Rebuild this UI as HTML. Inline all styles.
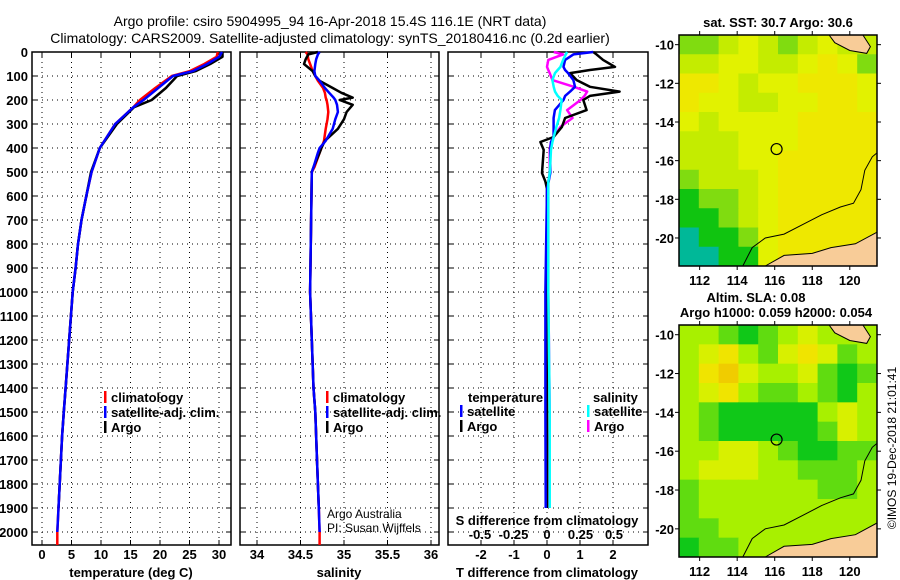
<!DOCTYPE html>
<html><head><meta charset="utf-8"><style>
body{margin:0;background:#fff;}
svg{display:block;font-family:"Liberation Sans",sans-serif;}
.t{font-size:13px;font-weight:bold;fill:#000;}
.ti{font-size:14px;fill:#000;}
.n{font-size:12px;fill:#000;}
</style></head><body>
<svg id="s" width="900" height="580" viewBox="0 0 900 580">
<rect width="900" height="580" fill="#fff"/>
<text class="ti" x="330" y="26" text-anchor="middle">Argo profile: csiro 5904995_94 16-Apr-2018 15.4S 116.1E (NRT data)</text>
<text class="ti" x="330" y="43" text-anchor="middle">Climatology: CARS2009. Satellite-adjusted climatology: synTS_20180416.nc (0.2d earlier)</text>
<g id="g"></g>
</svg>
<script>
// ---------- profile data ----------
const tDepth = [0,20,50,80,100,150,200,230,300,400,500,600,700,800,900,1000,1400,1500,1600,1700,1800,1900,2000];
const tClim  = [29.8,29.6,27.5,25,22.0,19.2,16.6,15.5,12.4,9.8,8.4,7.5,6.7,6.1,5.7,5.2,4.0,3.7,3.4,3.2,3.0,2.8,2.6];
const tSat   = [30.5,30.0,28,25.5,22.2,19.7,17.2,15.5,12.4,9.8,8.4,7.5,6.7,6.1,5.7,5.2,4.0,3.7,3.4,3.2,3.0,2.8,2.6];
const tArgo  = [30.6,30.6,28.5,26,22.9,21.0,18.6,15.6,12.7,9.8,8.3,7.5,6.7,6.1,5.7,5.2,4.0,3.7,3.4,3.2,3.0,2.8];
const sDepth = [0,10,30,50,80,100,120,150,170,190,200,220,250,280,320,370,400,420,480,500,1000,1400,1500,1700,1800,1900,2000];
const sClim  = [34.56,34.58,34.59,34.61,34.64,34.67,34.7,34.76,34.78,34.79,34.8,34.81,34.82,34.81,34.79,34.77,34.74,34.72,34.66,34.63,34.61,34.65,34.67,34.69,34.70,34.71,34.72];
const sSat   = [34.72,34.70,34.68,34.67,34.66,34.67,34.72,34.78,34.83,34.88,34.90,34.92,34.93,34.90,34.87,34.79,34.72,34.70,34.65,34.63,34.61,34.65,34.67,34.69,34.70,34.71,34.72];
const sArgo  = [34.70,34.59,34.56,34.54,34.64,34.67,34.72,34.87,34.97,35.10,34.95,35.10,35.03,35.00,34.93,34.78,34.74,34.72,34.65,34.63,34.61,34.65,34.67,34.69,34.70,34.71];
const dDepth = [0,10,33,62,75,88,117,145,165,183,200,242,275,312,354,375,408,504,540,570,1000,1500,1900];
const dTArgo = [1.4,1.5,1.7,2.06,1.3,0.7,0.9,1.3,2.2,1.3,1.1,1.2,0.55,0.45,0.2,-0.2,-0.1,-0.15,-0.05,0,-0.02,0,0];
const dTSat  = [1.4,0.8,0.55,0.5,0.55,0.64,0.8,0.85,0.7,0.55,0.5,0.24,0.2,0.2,0.2,0.12,0.1,0.1,0.05,0,-0.05,-0.05,-0.04];
const dSArgo = [0.05,0.12,0.01,0,0.01,0.02,0.04,0.2,0.3,0.28,0.25,0.15,0.19,0.1,0.05,0.03,0.02,0.02,0.01,0.01,0.01,0.02,0.01];
const dSSat  = [0.15,0.14,0.12,0.1,0.08,0.06,0.04,0.05,0.06,0.08,0.11,0.1,0.09,0.07,0.05,0.04,0.03,0.02,0.01,0.01,0.01,0.02,0.02];
const depthTicks = [0,100,200,300,400,500,600,700,800,900,1000,1100,1200,1300,1400,1500,1600,1700,1800,1900,2000];
const tTicks = [0,5,10,15,20,25,30];
const sTicks = [34,34.5,35,35.5,36];
const dTicks = [-2,-1,0,1,2];
const dsTicks = [-0.5,-0.25,0,0.25,0.5];
// ---------- map data (colour class per cell, 9 = land) ----------
const sstGrid = [
 "2234323499","3344334542","5543445554","5443344554","4344445555","3334445555",
 "3334455555","2333455555","1223455555","1123455555","0112455555","0011455555"];
const slaGrid = [
 "3321234399","3453245423","3564334212","3453223213","3211111343","3211111243",
 "3344321122","3444332223","2333333223","2333333333","2233333333","1223333333"];
const sstCols = ["#00b898","#10c410","#80dc10","#c4ec00","#e2f200","#eee800","#f0d400"];
const slaCols = ["#00b898","#10c818","#60dc10","#a8f000","#d8f000","#f0e400","#f0cc00"];
const lonTicks = [112,114,116,118,120];
const latTicks = [-10,-12,-14,-16,-18,-20];

const NS="http://www.w3.org/2000/svg", G=document.getElementById('g');
function mk(tag,at,par){const e=document.createElementNS(NS,tag);for(const k in at)e.setAttribute(k,at[k]);(par||G).appendChild(e);return e;}
function txt(x,y,s,cls,anc,par){const e=mk('text',{x:x,y:y,'class':cls,'text-anchor':anc||'start'},par);e.textContent=s;return e;}
const yD = d => 52 + d*0.24;
const Y0=52, Y1=545;

function panel(name,x0,x1,xs,ticks,fmtLbl){
  const g=mk('g',{});
  
  
  ticks.forEach(v=>{const x=xs(v);mk('line',{x1:x,y1:Y0,x2:x,y2:Y1,stroke:'#000','stroke-width':1,'stroke-dasharray':'1,4'},g);
    mk('line',{x1:x,y1:Y1,x2:x,y2:Y1-5,stroke:'#000'},g);mk('line',{x1:x,y1:Y0,x2:x,y2:Y0+5,stroke:'#000'},g);
    if(fmtLbl){const l=txt(x,559,fmtLbl(v),'t','middle',g);}});
  depthTicks.forEach(d=>{const y=yD(d);mk('line',{x1:x0,y1:y,x2:x1,y2:y,stroke:'#000','stroke-width':1,'stroke-dasharray':'1,4'},g);
    mk('line',{x1:x0,y1:y,x2:x0+5,y2:y,stroke:'#000'},g);mk('line',{x1:x1,y1:y,x2:x1-5,y2:y,stroke:'#000'},g);});
  mk('rect',{x:x0,y:Y0,width:x1-x0,height:Y1-Y0,fill:'none',stroke:'#000','stroke-width':1.5},g);
  return g;
}
function series(name,depths,vals,xs,col,g,extendTo){
  let pts=vals.map((v,i)=>xs(v).toFixed(1)+','+yD(depths[i]).toFixed(1));
  if(extendTo!==undefined) pts.push(xs(vals[vals.length-1]).toFixed(1)+','+yD(extendTo).toFixed(1));
  const p=mk('polyline',{points:pts.join(' '),fill:'none',stroke:col,'stroke-width':2.5,'stroke-linejoin':'round'},g);
  
  
}
function legend(x,y,items,g){
  items.forEach((it,i)=>{mk('rect',{x:x,y:y+i*15-11,width:2.5,height:12,fill:it[1]},g);
    const t=txt(x+7,y+i*15,it[0],'t','start',g);});
}
// Panel 1 temperature
const xT = v => 42 + v*5.9;
const p1=panel('temperature-panel',32,231,xT,tTicks,v=>String(v));
depthTicks.forEach(d=>{const t=txt(28,yD(d)+5,String(d),'t','end',p1);});
series('temperature-climatology',tDepth,tClim,xT,'#f00',p1,2054);
series('temperature-argo',tDepth.slice(0,tArgo.length),tArgo,xT,'#000',p1);
series('temperature-satellite',tDepth,tSat,xT,'#00f',p1);
legend(104,402,[['climatology','#f00'],['satellite-adj. clim.','#00f'],['Argo','#000']],p1);
const xl1=txt(131,577,'temperature (deg C)','t','middle',p1);
// Panel 2 salinity
const xS = v => 257 + (v-34)*87;
const p2=panel('salinity-panel',240,439,xS,sTicks,v=>String(v));
series('salinity-climatology',sDepth,sClim,xS,'#f00',p2,2054);
series('salinity-argo',sDepth.slice(0,sArgo.length),sArgo,xS,'#000',p2);
series('salinity-satellite',sDepth,sSat,xS,'#00f',p2);
legend(326,402,[['climatology','#f00'],['satellite-adj. clim.','#00f'],['Argo','#000']],p2);
txt(327,518,'Argo Australia','n','start',p2);
txt(327,532,'PI: Susan Wijffels','n','start',p2);
const xl2=txt(339,577,'salinity','t','middle',p2);
// Panel 3 differences
const xDT = v => 547 + v*33;
const xDS = v => 547 + v*134;
const p3=panel('difference-panel',448,648,xDT,dTicks,v=>String(v));
series('salinity-argo-diff',dDepth,dSArgo,xDS,'#f0f',p3);
series('temperature-argo-diff',dDepth,dTArgo,xDT,'#000',p3);
series('temperature-satellite-diff',dDepth,dTSat,xDT,'#00f',p3);
series('salinity-satellite-diff',dDepth,dSSat,xDS,'#0ff',p3);
txt(468,402,'temperature','t','start',p3);
legend(460,416,[['satellite','#00f'],['Argo','#000']],p3);
txt(593,402,'salinity','t','start',p3);
legend(587,416,[['satellite','#0ff'],['Argo','#f0f']],p3);
txt(547,525,'S difference from climatology','t','middle',p3);
dsTicks.forEach(v=>{const t=txt(xDS(v),539,String(v),'t','middle',p3);});
const xl3=txt(547,577,'T difference from climatology','t','middle',p3);

// ---------- maps ----------
function map(name,top,bot,latTop,latBot,grid,cols){
  const g=mk('g',{});
  
  
  const L=679,R=877,lon0=110.9,lon1=121.45;
  const xm=lon=>L+(lon-lon0)/(lon1-lon0)*(R-L);
  const ym=lat=>top+(latTop-lat)/(latTop-latBot)*(bot-top);
  const nr=grid.length,nc=grid[0].length,cw=(R-L)/nc,ch=(bot-top)/nr;
  grid.forEach((row,r)=>{for(let c=0;c<nc;c++){const v=+row[c];
    const cell=mk('rect',{x:L+c*cw,y:top+r*ch,width:cw+0.5,height:ch+0.5,fill:v===9?(r===0?cols[3]:'#f8cc98'):cols[v]},g);
    
    }});
  const poly=(arr,at)=>mk('polygon',Object.assign({points:arr.map(p=>xm(p[0]).toFixed(1)+','+ym(p[1]).toFixed(1)).join(' ')},at),g);
  poly([[115.5,-21.45],[116.5,-20.9],[118,-20.8],[119,-20.5],[120.3,-20.3],[121.45,-19.7],[121.45,-21.45]],{fill:'#f8cc98',stroke:'#000','stroke-width':1});
  poly([[118.9,-9.5],[119.2,-9.9],[120.0,-10.3],[120.9,-10.45],[121.1,-10.1],[120.7,-9.5]],{fill:'#f8cc98',stroke:'#000','stroke-width':1});
  mk('polyline',{points:[[114.3,-21.45],[114.8,-20.5],[115.5,-20.0],[116.5,-19.8],[117.5,-19.3],[118.5,-18.8],[119.5,-18.4],[120.2,-18.2],[120.6,-17.5],[120.8,-16.5],[121.2,-15.8],[121.45,-15.6]].map(p=>xm(p[0]).toFixed(1)+','+ym(p[1]).toFixed(1)).join(' '),fill:'none',stroke:'#000','stroke-width':1},g);
  mk('circle',{cx:xm(116.1),cy:ym(-15.4),r:5.5,fill:'none',stroke:'#000','stroke-width':1.2},g);
  mk('rect',{x:L,y:top,width:R-L,height:bot-top,fill:'none',stroke:'#000','stroke-width':1.5},g);
  lonTicks.forEach(v=>{mk('line',{x1:xm(v),y1:bot,x2:xm(v),y2:bot+4,stroke:'#000'},g);mk('line',{x1:xm(v),y1:top,x2:xm(v),y2:top-4,stroke:'#000'},g);
    txt(xm(v),bot+19,String(v),'t','middle',g);});
  latTicks.forEach(v=>{mk('line',{x1:L,y1:ym(v),x2:L-4,y2:ym(v),stroke:'#000'},g);mk('line',{x1:R,y1:ym(v),x2:R+4,y2:ym(v),stroke:'#000'},g);
    txt(674,ym(v)+5,String(v),'t','end',g);});
  return g;
}
map('sst-map',35,266,-9.5,-21.45,sstGrid,sstCols);
txt(778,27,'sat. SST: 30.7 Argo: 30.6','t','middle');
map('sla-map',325,557,-9.5,-21.45,slaGrid,slaCols);
txt(756,302,'Altim. SLA: 0.08','t','middle');
txt(776,317,'Argo h1000: 0.059 h2000: 0.054','t','middle');
const c=txt(0,0,'©IMOS 19-Dec-2018 21:01:41','n','middle');
c.setAttribute('transform','translate(896,448) rotate(-90)');


</script>
</body></html>
